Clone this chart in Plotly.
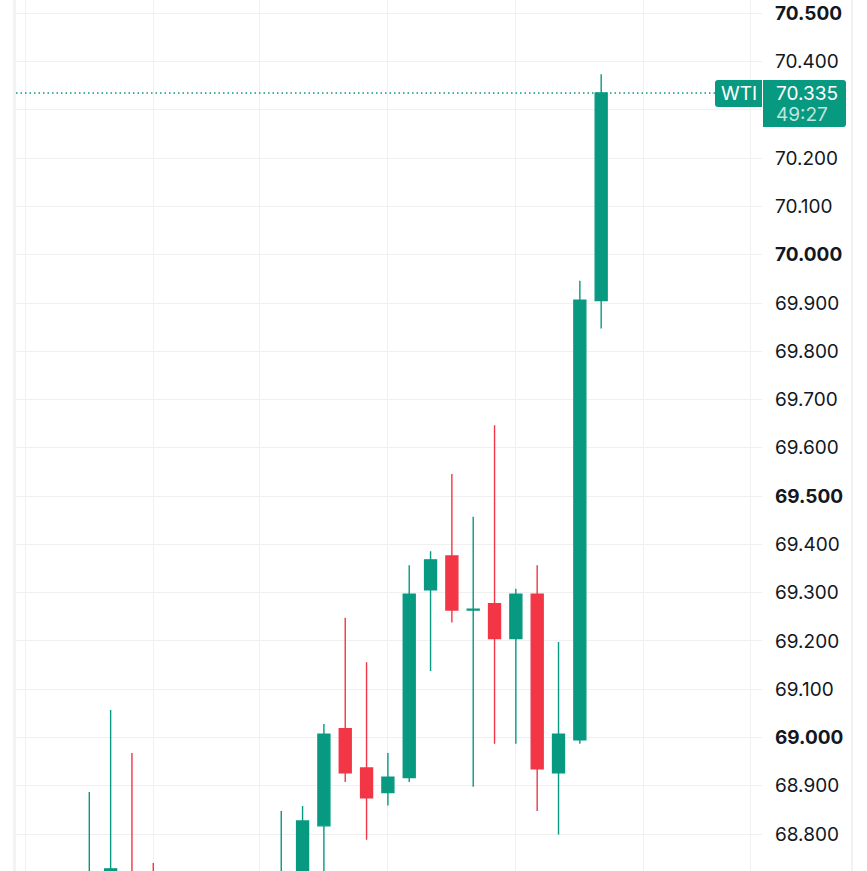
import plotly.graph_objects as go

# ---------------- data ----------------
slots = [0, 1, 2, 3, 9, 10, 11, 12, 13, 14, 15, 16, 17, 18, 19, 20, 21, 22, 23, 24]
opens = [68.660, 68.680, 68.710, 68.660, 68.600, 68.700, 68.817, 69.018, 68.937, 68.886,
         68.917, 69.306, 69.376, 69.264, 69.277, 69.205, 69.297, 68.927, 68.995, 69.905]
highs = [68.887, 69.057, 68.968, 68.740, 68.848, 68.858, 69.028, 69.248, 69.156, 68.968,
         69.357, 69.386, 69.546, 69.457, 69.647, 69.308, 69.357, 69.198, 69.946, 70.374]
lows = [68.630, 68.660, 68.650, 68.580, 68.580, 68.680, 68.700, 68.908, 68.788, 68.859,
        68.908, 69.138, 69.238, 68.898, 68.987, 68.987, 68.848, 68.799, 68.987, 69.847]
closes = [68.700, 68.728, 68.660, 68.600, 68.700, 68.827, 69.007, 68.927, 68.875, 68.918,
          69.297, 69.368, 69.264, 69.266, 69.205, 69.297, 68.935, 69.007, 69.906, 70.335]

price_ticks = [68.8, 68.9, 69.0, 69.1, 69.2, 69.3, 69.4, 69.5, 69.6, 69.7, 69.8, 69.9,
               70.0, 70.1, 70.2, 70.3, 70.4, 70.5]
price_labels = ["68.800", "68.900", "<b>69.000</b>", "69.100", "69.200", "69.300", "69.400",
                "<b>69.500</b>", "69.600", "69.700", "69.800", "69.900", "<b>70.000</b>",
                "70.100", "70.200", "", "70.400", "<b>70.500</b>"]
time_grid = [-3, 3, 8, 14, 20, 26, 31]

symbol = "WTI"
last_price = "70.335"
countdown = "49:27"
last_value = 70.335

# ---------------- style ----------------
W, H = 867, 871
L, R = 16, 762
GREEN = "#089981"
RED = "#F23645"
GRID = "#f0f0f0"
FONT = "Inter"
FS = 19

def px(xp):
    return (xp - L) / (R - L)

def py(yp):
    return (H - yp) / H

fig = go.Figure()
fig.add_trace(go.Candlestick(
    x=slots, open=opens, high=highs, low=lows, close=closes,
    increasing=dict(line=dict(color=GREEN, width=1.4), fillcolor=GREEN),
    decreasing=dict(line=dict(color=RED, width=1.4), fillcolor=RED),
    whiskerwidth=0, hoverinfo="skip", showlegend=False,
))

def rpath(x0, y0, x1, y1, r, left_round, right_round):
    rx = r / (R - L)
    ry = r / H
    X0, X1 = px(x0), px(x1)
    Yt, Yb = py(y0), py(y1)
    p = []
    if left_round:
        p.append(f"M {X0+rx},{Yt}")
    else:
        p.append(f"M {X0},{Yt}")
    if right_round:
        p.append(f"L {X1-rx},{Yt} Q {X1},{Yt} {X1},{Yt-ry} L {X1},{Yb+ry} Q {X1},{Yb} {X1-rx},{Yb}")
    else:
        p.append(f"L {X1},{Yt} L {X1},{Yb}")
    if left_round:
        p.append(f"L {X0+rx},{Yb} Q {X0},{Yb} {X0},{Yb+ry} L {X0},{Yt-ry} Q {X0},{Yt} {X0+rx},{Yt} Z")
    else:
        p.append(f"L {X0},{Yb} Z")
    return " ".join(p)

shapes = [
    dict(type="rect", xref="paper", yref="paper", x0=px(13), x1=px(16), y0=0, y1=1,
         fillcolor="#f3f3f3", line=dict(width=0), layer="below"),
    dict(type="line", xref="paper", yref="paper", x0=px(852), x1=px(852), y0=0, y1=1,
         line=dict(color="#eeeeee", width=1.5)),
    dict(type="line", xref="paper", yref="y", x0=0, x1=1, y0=last_value, y1=last_value,
         line=dict(color=GREEN, width=1.5, dash="1.5px,3px")),
    dict(type="path", xref="paper", yref="paper", path=rpath(715, 80, 762, 107, 3, True, False),
         fillcolor=GREEN, line=dict(width=0)),
    dict(type="path", xref="paper", yref="paper", path=rpath(763, 80, 846, 127, 3, False, True),
         fillcolor=GREEN, line=dict(width=0)),
]

annotations = [
    dict(xref="paper", yref="paper", x=px(739), y=py(93.5), text=symbol, showarrow=False,
         xanchor="center", yanchor="middle", font=dict(family=FONT, size=FS, color="white")),
    dict(xref="paper", yref="paper", x=px(774), y=py(93.5), text=last_price, showarrow=False,
         xanchor="left", yanchor="middle", font=dict(family=FONT, size=FS, color="white")),
    dict(xref="paper", yref="paper", x=px(774), y=py(114), text=countdown, showarrow=False,
         xanchor="left", yanchor="middle",
         font=dict(family=FONT, size=FS, color="rgba(255,255,255,0.75)")),
]

fig.update_layout(
    width=W, height=H,
    margin=dict(l=L, r=W - R, t=0, b=0, pad=0),
    paper_bgcolor="white", plot_bgcolor="white",
    font=dict(family=FONT, size=FS, color="#131722"),
    boxgap=0.2,
    shapes=shapes, annotations=annotations,
    xaxis=dict(range=[-3.436, 31.54], tickvals=time_grid, showticklabels=False,
               showgrid=True, gridcolor=GRID, gridwidth=1, zeroline=False,
               rangeslider=dict(visible=False), fixedrange=True, showline=False, ticks=""),
    yaxis=dict(range=[68.7235, 70.5276], side="right", tickvals=price_ticks, ticktext=price_labels,
               showgrid=True, gridcolor=GRID, gridwidth=1, zeroline=False, showline=False,
               ticks="", ticklabelstandoff=12, tickfont=dict(family=FONT, size=FS, color="#131722"),
               fixedrange=True),
)

fig.write_html("out.html", config={"displayModeBar": False},
               post_script="document.body.style.margin='0';")
